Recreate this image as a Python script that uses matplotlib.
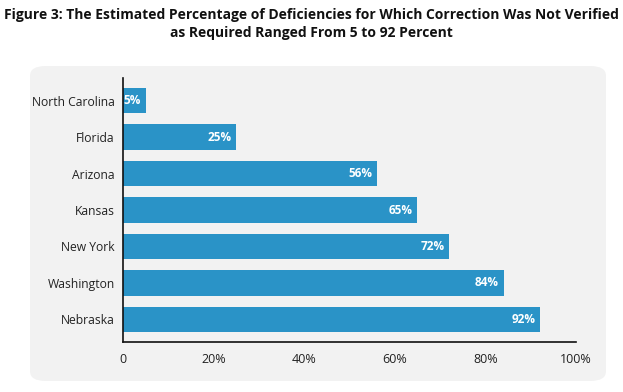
import matplotlib
matplotlib.use("Agg")
import matplotlib.pyplot as plt
from matplotlib.patches import FancyBboxPatch
from matplotlib.ticker import FuncFormatter

states = ["North Carolina", "Florida", "Arizona", "Kansas", "New York", "Washington", "Nebraska"]
values = [5, 25, 56, 65, 72, 84, 92]
xticks = [0, 20, 40, 60, 80, 100]
title = ("Figure 3: The Estimated Percentage of Deficiencies for Which Correction Was Not Verified\n"
         "as Required Ranged From 5 to 92 Percent")

plt.rcParams['font.family'] = ['Open Sans', 'DejaVu Sans']
W, H = 623, 392
fig = plt.figure(figsize=(W/100, H/100), dpi=100)
fig.patch.set_facecolor("white")

bg = FancyBboxPatch((30/W, 1-381/H), (606-30)/W, (381-66)/H,
                    boxstyle="round,pad=0,rounding_size=0.025",
                    transform=fig.transFigure, facecolor="#F2F2F2", edgecolor="none", zorder=-5)
fig.patches.append(bg)

fig.text(0.5, 1-8/H, title, ha="center", va="top", fontsize=10, fontweight="bold",
         linespacing=1.35, color="#111111")

ax = fig.add_axes([123/W, 1-342/H, (576-123)/W, (342-78)/H])
ax.set_facecolor("none")
ypos = list(range(len(states)))
bars = ax.barh(ypos, values, height=0.69, color="#2A93C7", zorder=2)
ax.set_ylim(6.62, -0.62)
ax.set_xlim(0, 100)
ax.set_yticks(ypos)
ax.set_yticklabels(states, fontsize=8.7, color="#222222")
ax.set_xticks(xticks)
ax.xaxis.set_major_formatter(FuncFormatter(lambda v, p: "0" if v == 0 else f"{int(v)}%"))
ax.tick_params(axis="x", labelsize=9, length=0, pad=8, colors="#222222")
ax.tick_params(axis="y", length=0, pad=6)
for s in ["top", "right"]:
    ax.spines[s].set_visible(False)
for s in ["left", "bottom"]:
    ax.spines[s].set_linewidth(1.2)
    ax.spines[s].set_color("#111111")

for b, v in zip(bars, values):
    ax.text(v - 1.0, b.get_y() + b.get_height()/2, f"{v}%", ha="right", va="center",
            color="white", fontweight="bold", fontsize=8.5)

fig.savefig("out.png", dpi=100)
